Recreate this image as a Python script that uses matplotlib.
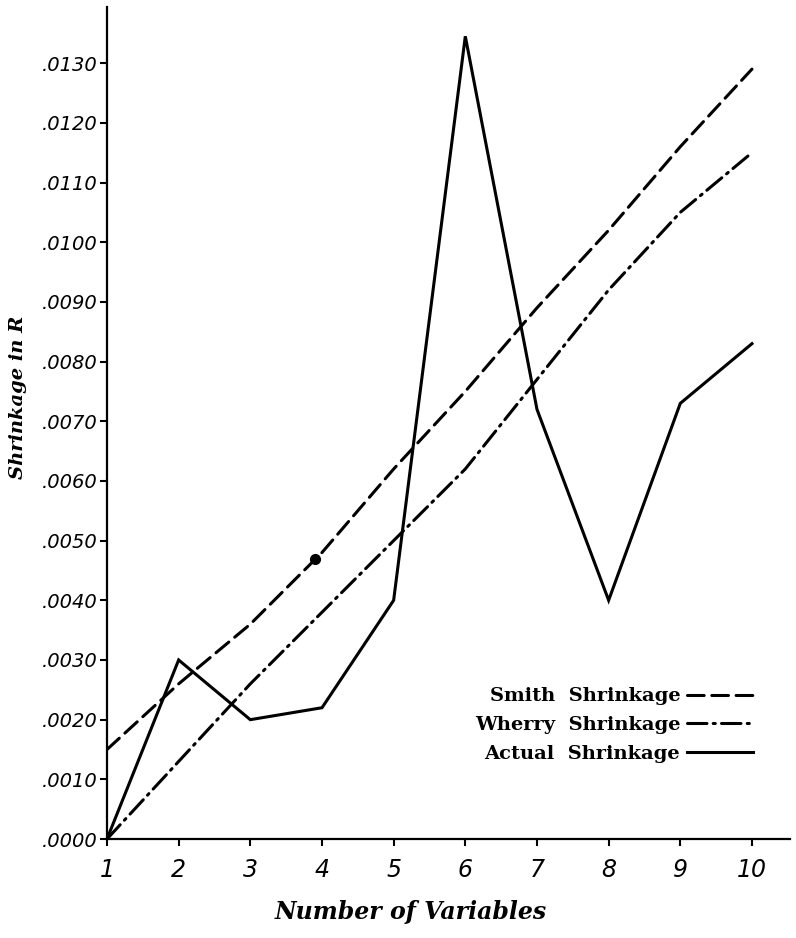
import matplotlib
matplotlib.use("Agg")
import matplotlib.pyplot as plt
from matplotlib.ticker import FixedLocator

# ---- data ----
n_variables = [1, 2, 3, 4, 5, 6, 7, 8, 9, 10]
smith = [0.0015, 0.0026, 0.0036, 0.0048, 0.0062, 0.0075, 0.0089, 0.0102, 0.0116, 0.0129]
wherry = [0.0000, 0.0013, 0.0026, 0.0038, 0.0050, 0.0062, 0.0077, 0.0092, 0.0105, 0.0115]
actual = [0.0000, 0.0030, 0.0020, 0.0022, 0.0040, 0.01345, 0.0072, 0.0040, 0.0073, 0.0083]
dot_x = [3.9]
dot_y = [0.0047]
y_ticks = [i / 10000 for i in range(0, 140, 10)]
y_tick_labels = [".%04d" % round(v * 10000) for v in y_ticks]
series_labels = ["Smith  Shrinkage", "Wherry  Shrinkage", "Actual  Shrinkage"]

plt.rcParams['lines.scale_dashes'] = False

fig = plt.figure(figsize=(7.96, 9.38), dpi=100)
ax = fig.add_axes([0.1344, 0.1055, 0.858, 0.887])

lw = 2.2
l1, = ax.plot(n_variables, smith, color="black", lw=lw, dashes=(12, 5.5),
              dash_capstyle="round", label=series_labels[0])
l2, = ax.plot(n_variables, wherry, color="black", lw=lw, dashes=(14, 4.5, 1.5, 4.5),
              dash_capstyle="round", label=series_labels[1])
l3, = ax.plot(n_variables, actual, color="black", lw=lw, solid_joinstyle="miter",
              label=series_labels[2])
ax.plot(dot_x, dot_y, "o", color="black", ms=7)

ax.set_xlim(1, 10.53)
ax.set_ylim(0, 0.01394)

for s in ["top", "right"]:
    ax.spines[s].set_visible(False)
for s in ["left", "bottom"]:
    ax.spines[s].set_linewidth(1.6)

ax.xaxis.set_major_locator(FixedLocator(n_variables))
ax.yaxis.set_major_locator(FixedLocator(y_ticks))
ax.set_yticklabels(y_tick_labels)
ax.tick_params(axis="both", direction="out", length=5, width=1.5, color="black")
ax.tick_params(axis="y", pad=1.5, labelsize=14)
ax.tick_params(axis="x", pad=9, labelsize=17)
for t in ax.get_yticklabels() + ax.get_xticklabels():
    t.set_fontstyle("italic")
    t.set_family("DejaVu Sans")

fig.text(0.023, 0.576, "Shrinkage in R", rotation=90, ha="center", va="center",
         family="DejaVu Serif", fontstyle="italic", fontweight="bold", fontsize=14)
fig.text(0.516, 0.028, "Number of Variables", ha="center", va="center",
         family="DejaVu Serif", fontstyle="italic", fontweight="bold", fontsize=17)

leg = ax.legend(handles=[l1, l2, l3], loc="center right",
                bbox_to_anchor=(0.946, 0.137), bbox_transform=ax.transAxes,
                frameon=False, markerfirst=False, borderpad=0, borderaxespad=0,
                handlelength=3.4, handletextpad=0.35, labelspacing=0.55,
                prop={"family": "DejaVu Serif", "size": 14, "weight": "bold"})

fig.savefig("out.png", dpi=100, facecolor="white")
